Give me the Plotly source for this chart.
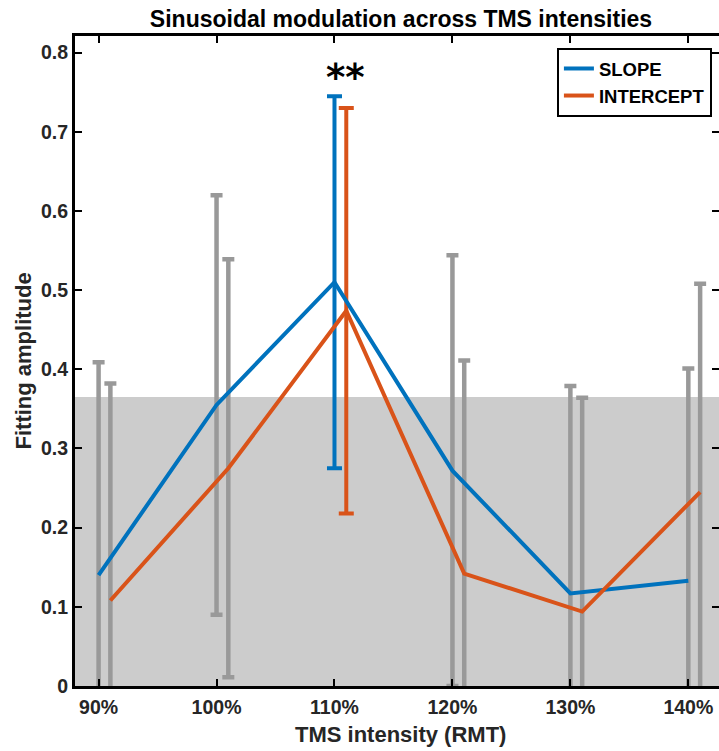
import plotly.graph_objects as go

# ---- data ----
intensities = [90, 100, 110, 120, 130, 140]
tick_labels = ["90%", "100%", "110%", "120%", "130%", "140%"]
slope_mean = [0.140, 0.355, 0.510, 0.272, 0.117, 0.133]
slope_err = [0.269, 0.265, 0.235, 0.272, 0.262, 0.268]
intercept_mean = [0.108, 0.275, 0.474, 0.142, 0.094, 0.245]
intercept_err = [0.274, 0.264, 0.256, 0.269, 0.270, 0.263]
intercept_offset = 1.0   # horizontal shift of the intercept series
sig_index = 2            # 110% condition, significant
sig_label = "**"
null_band_top = 0.365    # shaded null range
y_ticks = [0, 0.1, 0.2, 0.3, 0.4, 0.5, 0.6, 0.7, 0.8]
y_tick_labels = ["0", "0.1", "0.2", "0.3", "0.4", "0.5", "0.6", "0.7", "0.8"]
x_range = [88.0, 142.6]
y_range = [0, 0.821]

BLUE = "rgb(0,114,189)"
ORANGE = "rgb(217,83,25)"
GRAY = "rgb(153,153,153)"
DARK = "rgb(38,38,38)"
FONT = "Liberation Sans"

fig = go.Figure()

fig.add_shape(type="rect", xref="paper", x0=0, x1=1, yref="y", y0=0, y1=null_band_top,
              fillcolor="rgb(204,204,204)", line=dict(width=0), layer="below")

x_slope = intensities
x_int = [v + intercept_offset for v in intensities]

def err_trace(xs, ys, es, idx, color, thick, capw):
    return go.Scatter(
        x=[xs[i] for i in idx], y=[ys[i] for i in idx], mode="markers",
        marker=dict(size=1, opacity=0), showlegend=False, hoverinfo="skip",
        error_y=dict(type="data", array=[es[i] for i in idx], symmetric=True,
                     color=color, thickness=thick, width=capw))

others = [i for i in range(len(intensities)) if i != sig_index]
fig.add_trace(err_trace(x_slope, slope_mean, slope_err, others, GRAY, 4.5, 6))
fig.add_trace(err_trace(x_int, intercept_mean, intercept_err, others, GRAY, 4.5, 6))
fig.add_trace(err_trace(x_slope, slope_mean, slope_err, [sig_index], BLUE, 4, 7.5))
fig.add_trace(err_trace(x_int, intercept_mean, intercept_err, [sig_index], ORANGE, 4, 7.5))

fig.add_trace(go.Scatter(x=x_slope, y=slope_mean, mode="lines", name="SLOPE",
                         line=dict(color=BLUE, width=4)))
fig.add_trace(go.Scatter(x=x_int, y=intercept_mean, mode="lines", name="INTERCEPT",
                         line=dict(color=ORANGE, width=4)))

# invisible trace to activate the mirrored (top/right) tick axes
fig.add_trace(go.Scatter(x=[intensities[0]], y=[y_ticks[0]], xaxis="x2", yaxis="y2",
                         mode="markers", marker=dict(size=1, opacity=0),
                         showlegend=False, hoverinfo="skip"))

fig.add_annotation(x=intensities[sig_index] + 0.9, y=0.768,
                   text=sig_label, showarrow=False, yanchor="middle", xanchor="center",
                   font=dict(family="DejaVu Sans", size=37, color="black", weight="bold"))

# axis titles as annotations for precise placement
fig.add_annotation(xref="paper", yref="paper", x=0.5047, y=-0.0753,
                   text="TMS intensity (RMT)", showarrow=False,
                   xanchor="center", yanchor="middle",
                   font=dict(family=FONT, size=22, color=DARK, weight="bold"))
fig.add_annotation(xref="paper", yref="paper", x=-0.08, y=0.5,
                   text="Fitting amplitude", showarrow=False, textangle=-90,
                   xanchor="center", yanchor="middle",
                   font=dict(family=FONT, size=22, color=DARK, weight="bold"))

tickfont = dict(family=FONT, size=19.5, color=DARK, weight="bold")
common = dict(ticks="inside", ticklen=7, tickwidth=2, tickcolor="black",
              showgrid=False, zeroline=False)

fig.update_layout(
    width=719, height=751,
    margin=dict(l=75, r=0, t=36, b=65),
    plot_bgcolor="white", paper_bgcolor="white",
    title=dict(text="Sinusoidal modulation across TMS intensities",
               xref="container", x=0.5577, xanchor="center",
               yref="container", y=0.975, yanchor="middle",
               font=dict(family=FONT, size=23, color="black", weight="bold")),
    xaxis=dict(range=x_range, tickvals=intensities, ticktext=tick_labels,
               showline=True, linecolor="black", linewidth=3, tickfont=tickfont,
               ticklabelstandoff=2, **common),
    xaxis2=dict(range=x_range, matches="x", overlaying="x", side="top",
                tickvals=intensities, showticklabels=False,
                showline=True, linecolor="black", linewidth=3, **common),
    yaxis=dict(range=y_range, tickvals=y_ticks, ticktext=y_tick_labels,
               showline=True, linecolor="black", linewidth=3, tickfont=tickfont,
               **common),
    yaxis2=dict(range=y_range, matches="y", overlaying="y", side="right",
                tickvals=y_ticks, showticklabels=False, showline=False, **common),
    legend=dict(x=0.989, xanchor="right", y=0.9816, yanchor="top",
                bgcolor="white", bordercolor="black", borderwidth=2,
                font=dict(family=FONT, size=18.5, color="black", weight="bold"),
                tracegroupgap=0, itemwidth=30),
    showlegend=True,
)

fig.write_html("out.html")
